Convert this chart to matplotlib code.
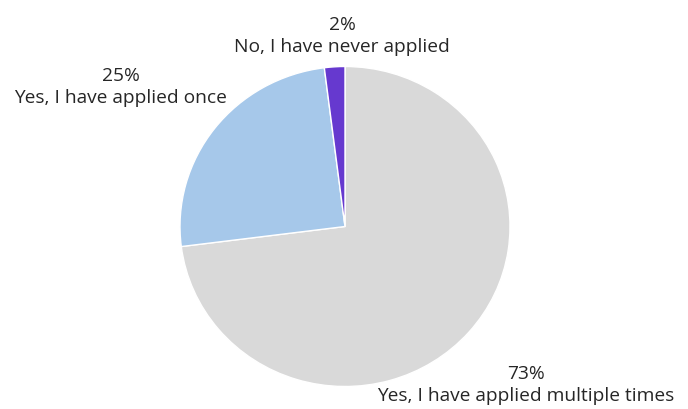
import matplotlib
matplotlib.use("Agg")
import matplotlib.pyplot as plt

# data
categories = ["Yes, I have applied multiple times", "Yes, I have applied once", "No, I have never applied"]
shares = [73, 25, 2]
colors = ["#d9d9d9", "#a6c8ea", "#6639cf"]

plt.rcParams['font.family'] = ['Open Sans', 'DejaVu Sans']

W, H = 688, 410
fig = plt.figure(figsize=(W / 100, H / 100), dpi=100)

# pie box in pixels
cx, cy, rx, ry = 345, 227.5, 165, 160
ax = fig.add_axes([(cx - rx) / W, (H - cy - ry) / H, 2 * rx / W, 2 * ry / H])
ax.pie(shares, colors=colors, startangle=90, counterclock=False,
       wedgeprops=dict(edgecolor="white", linewidth=1))
ax.set_aspect('auto')
ax.set_xlim(-1, 1)
ax.set_ylim(-1, 1)

# label block centres in pixels (from top-left)
label_pos = [(526, 385), (121, 87), (342, 36)]
for cat, s, (lx, ly) in zip(categories, shares, label_pos):
    fig.text(lx / W, 1 - ly / H, f"{s}%\n{cat}", ha="center", va="center",
             fontsize=13.8, color="#262626", linespacing=1.32)

fig.savefig("out.png", dpi=100)
